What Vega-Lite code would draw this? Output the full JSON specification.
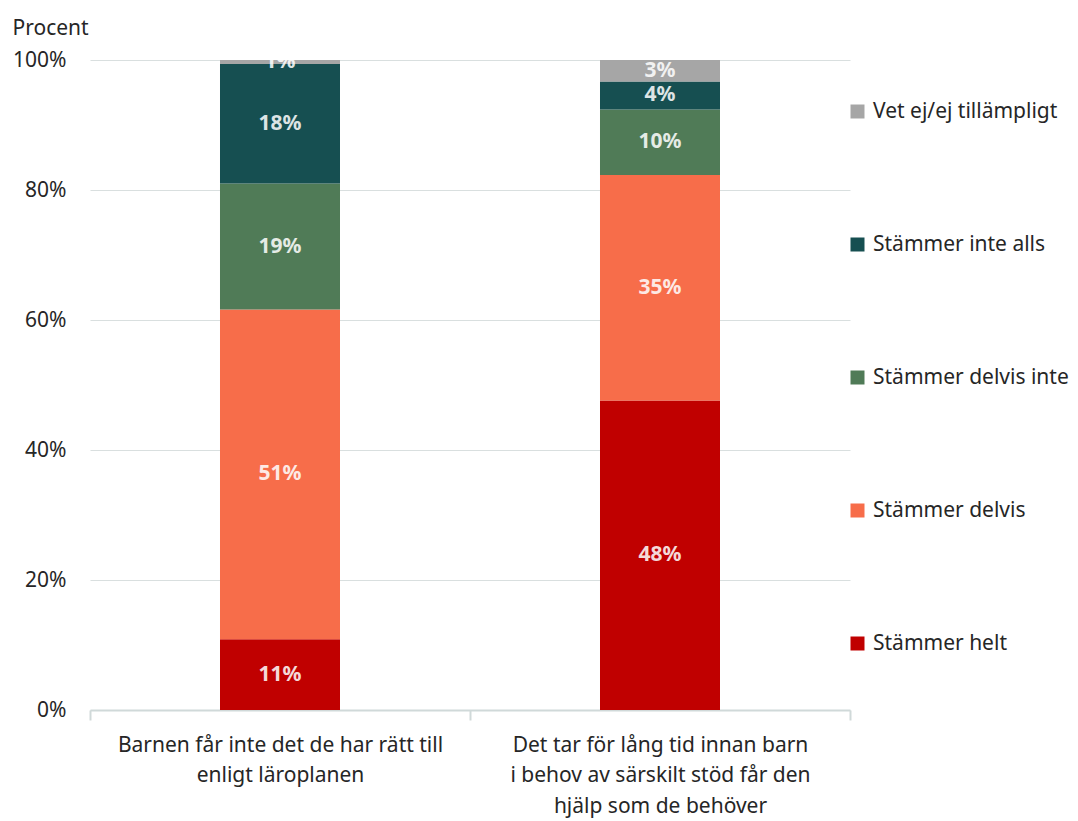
{
  "$schema": "https://vega.github.io/schema/vega-lite/v6.json",
  "autosize": "none",
  "width": 760,
  "height": 650,
  "padding": {"left": 90, "top": 60, "right": 228, "bottom": 111},
  "background": "white",
  "config": {
    "view": {"stroke": null},
    "font": "Noto Sans",
    "axis": {"labelFont": "Noto Sans", "titleFont": "Noto Sans", "labelColor": "#262626", "titleColor": "#262626"},
    "legend": {"labelFont": "Noto Sans"}
  },
  "data": {
    "values": [
      {"fråga": "Barnen får inte det de har rätt till enligt läroplanen", "svar": "Stämmer helt", "andel": 0.109},
      {"fråga": "Barnen får inte det de har rätt till enligt läroplanen", "svar": "Stämmer delvis", "andel": 0.507},
      {"fråga": "Barnen får inte det de har rätt till enligt läroplanen", "svar": "Stämmer delvis inte", "andel": 0.194},
      {"fråga": "Barnen får inte det de har rätt till enligt läroplanen", "svar": "Stämmer inte alls", "andel": 0.184},
      {"fråga": "Barnen får inte det de har rätt till enligt läroplanen", "svar": "Vet ej/ej tillämpligt", "andel": 0.006},
      {"fråga": "Det tar för lång tid innan barn i behov av särskilt stöd får den hjälp som de behöver", "svar": "Stämmer helt", "andel": 0.476},
      {"fråga": "Det tar för lång tid innan barn i behov av särskilt stöd får den hjälp som de behöver", "svar": "Stämmer delvis", "andel": 0.347},
      {"fråga": "Det tar för lång tid innan barn i behov av särskilt stöd får den hjälp som de behöver", "svar": "Stämmer delvis inte", "andel": 0.101},
      {"fråga": "Det tar för lång tid innan barn i behov av särskilt stöd får den hjälp som de behöver", "svar": "Stämmer inte alls", "andel": 0.043},
      {"fråga": "Det tar för lång tid innan barn i behov av särskilt stöd får den hjälp som de behöver", "svar": "Vet ej/ej tillämpligt", "andel": 0.033}
    ]
  },
  "transform": [
    {"calculate": "indexof(['Stämmer helt','Stämmer delvis','Stämmer delvis inte','Stämmer inte alls','Vet ej/ej tillämpligt'], datum.svar)", "as": "ordning"},
    {"stack": "andel", "groupby": ["fråga"], "sort": [{"field": "ordning", "order": "ascending"}], "as": ["v0", "v1"]},
    {"calculate": "(datum.v0 + datum.v1) / 2", "as": "mitt"}
  ],
  "encoding": {
    "x": {
      "field": "fråga",
      "type": "nominal",
      "sort": null,
      "scale": {"paddingInner": 0, "paddingOuter": 0},
      "axis": {
        "title": null,
        "labelAngle": 0,
        "labelFontSize": 21,
        "labelLineHeight": 30.5,
        "labelPadding": 14,
        "labelLimit": 500,
        "labelExpr": "datum.extra ? '' : (datum.value == 'Barnen får inte det de har rätt till enligt läroplanen' ? ['Barnen får inte det de har rätt till', 'enligt läroplanen'] : ['Det tar för lång tid innan barn', 'i behov av särskilt stöd får den', 'hjälp som de behöver'])",
        "tickBand": "extent",
        "tickSize": 10,
        "tickWidth": 2,
        "tickColor": "#d0d9d9",
        "domainColor": "#d0d9d9",
        "domainWidth": 2,
        "grid": false
      }
    }
  },
  "layer": [
    {
      "mark": {"type": "bar", "width": {"band": 0.3158}},
      "encoding": {
        "y": {
          "field": "v0",
          "type": "quantitative",
          "scale": {"domain": [0, 1]},
          "axis": {
            "title": "Procent",
            "titleAngle": 0,
            "titleAlign": "left",
            "titleBaseline": "middle",
            "titleX": -78,
            "titleY": -32,
            "titleFontSize": 21,
            "titleFontWeight": "normal",
            "format": ".0%",
            "values": [0, 0.2, 0.4, 0.6, 0.8, 1],
            "labelFontSize": 21,
            "labelPadding": 24,
            "ticks": false,
            "domain": false,
            "gridColor": "#d9dfdf",
            "gridWidth": 1
          }
        },
        "y2": {"field": "v1"},
        "color": {
          "field": "svar",
          "type": "nominal",
          "scale": {
            "domain": ["Vet ej/ej tillämpligt", "Stämmer inte alls", "Stämmer delvis inte", "Stämmer delvis", "Stämmer helt"],
            "range": ["#a6a6a6", "#164f51", "#507b57", "#f76d4a", "#c00000"]
          },
          "legend": {
            "title": null,
            "orient": "none",
            "legendX": 757,
            "legendY": 41,
            "symbolType": "square",
            "symbolSize": 196,
            "symbolStrokeWidth": 0,
            "labelFontSize": 21,
            "labelColor": "#262626",
            "labelOffset": 5,
            "labelLimit": 300,
            "rowPadding": 111
          }
        }
      }
    },
    {
      "mark": {"type": "text", "fontSize": 21, "fontWeight": "bold", "color": "white", "opacity": 0.85, "baseline": "middle", "align": "center"},
      "encoding": {
        "y": {"field": "mitt", "type": "quantitative"},
        "text": {"field": "andel", "type": "quantitative", "format": ".0%"}
      }
    }
  ]
}
